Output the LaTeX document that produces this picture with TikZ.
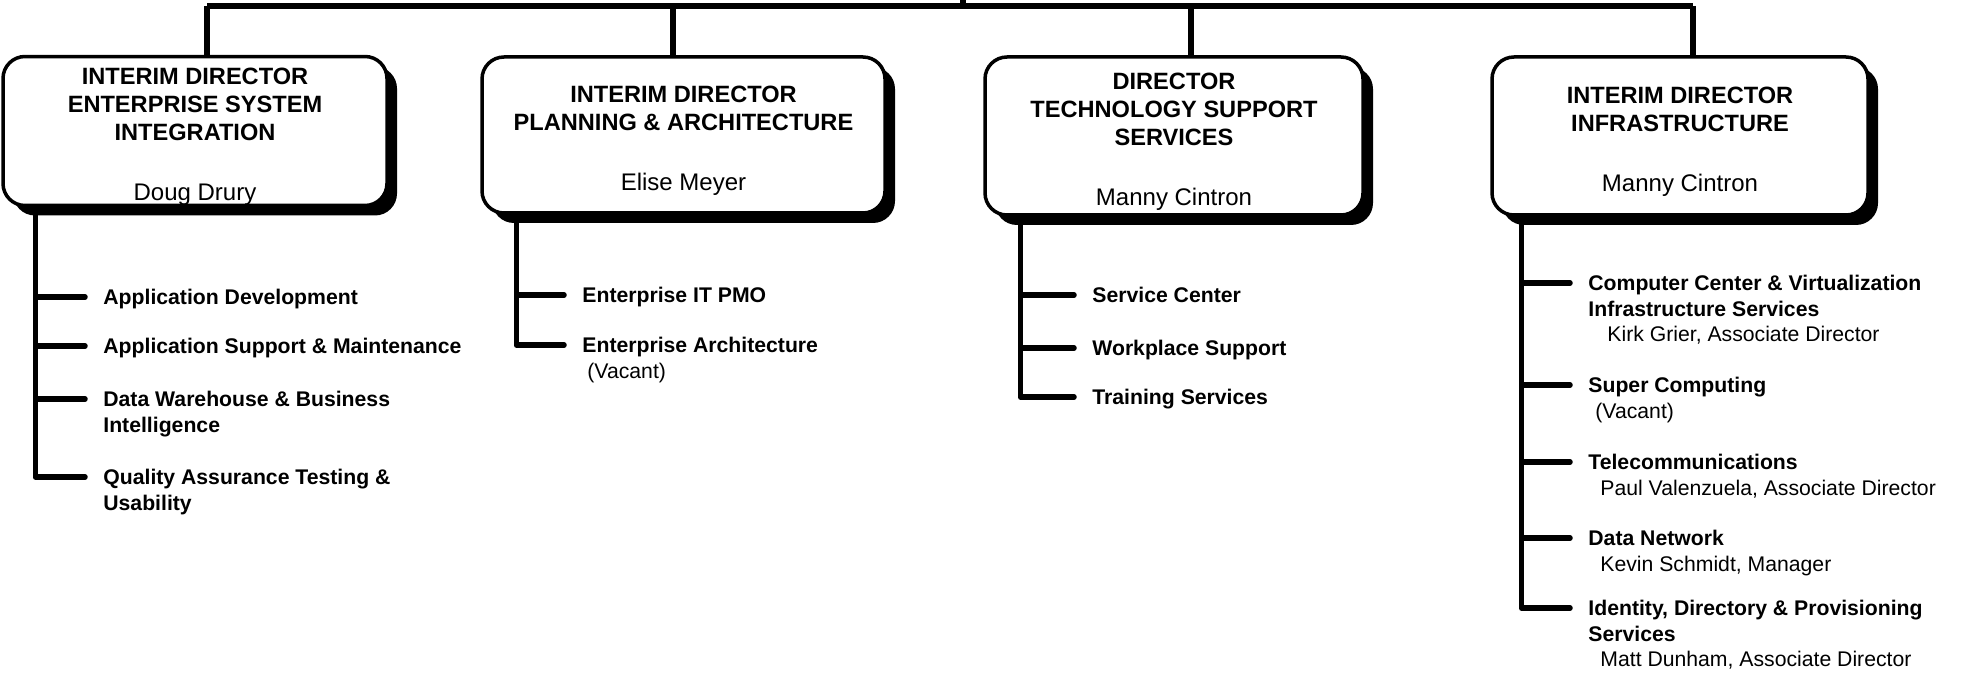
\documentclass[tikz,border=0pt]{standalone}
\usepackage{fontspec}
\setmainfont{Liberation Sans}
\usetikzlibrary{shadows}
\newcommand{\hd}{\fontsize{11.8}{14}\selectfont\bfseries}
\newcommand{\nm}{\fontsize{12}{14}\selectfont\mdseries}
\newcommand{\tallrow}{\rule{0pt}{14pt}}
\tikzset{dirbox/.style = {draw, line width=1.75pt, rounded corners=11pt, fill=white,
    align=center, inner sep=0pt, font=\hd,
    general shadow={fill=black, shadow xshift=5pt, shadow yshift=-5pt}},
  bar/.style = {line width=3pt},
  branch/.style = {line width=2.75pt, line join=round, line cap=round},
  unit/.style = {anchor=north west, inner sep=0pt, align=left,
    font=\fontsize{10.6}{12.8}\selectfont\bfseries}}

\begin{document}
\begin{tikzpicture}[x=0.5pt,y=-0.5pt]
    \useasboundingbox (0,0) rectangle (1963,673);

    % director boxes
    \node[dirbox, minimum width=192pt, minimum height=74pt] (ens) at (195,131)
        {\tallrow INTERIM DIRECTOR\\ENTERPRISE SYSTEM\\INTEGRATION\\[16pt]\nm Doug Drury};
    \node[dirbox, minimum width=201.5pt, minimum height=78pt] (pa) at (683.5,135)
        {\tallrow INTERIM DIRECTOR\\PLANNING \& ARCHITECTURE\\[16pt]\nm Elise Meyer};
    \node[dirbox, minimum width=189pt, minimum height=79pt] (tss) at (1174,136)
        {\tallrow DIRECTOR\\TECHNOLOGY SUPPORT\\SERVICES\\[16pt]\nm Manny Cintron};
    \node[dirbox, minimum width=188pt, minimum height=79pt] (infra) at (1680,136)
        {\tallrow INTERIM DIRECTOR\\INFRASTRUCTURE\\[16pt]\nm Manny Cintron};

    % top bar
    \coordinate (hub) at (963,6);
    \coordinate (d1) at (207,6);
    \coordinate (d2) at (673,6);
    \coordinate (d3) at (1191,6);
    \coordinate (d4) at (1693,6);
    \draw[bar] (d1) -- (d4);
    \draw[bar] (hub) -- ++(0,-6);
    \foreach \d/\b in {d1/ens,d2/pa,d3/tss,d4/infra}
        \draw[bar] (\d) -- (\d |- \b.north);

    % units
    \node[unit] (ad) at (103,289) {Application Development};
    \node[unit] (asm) at (103,338) {Application Support \& Maintenance};
    \node[unit] (dw) at (103,391) {Data Warehouse \& Business\\Intelligence};
    \node[unit] (qa) at (103,469) {Quality Assurance Testing \&\\Usability};

    \node[unit] (pmo) at (582,287) {Enterprise IT PMO};
    \node[unit] (ea) at (582,337) {Enterprise Architecture\\\mdseries\hspace*{2.5pt}(Vacant)};

    \node[unit] (sc) at (1092,287) {Service Center};
    \node[unit] (ws) at (1092,340) {Workplace Support};
    \node[unit] (ts) at (1092,389) {Training Services};

    \node[unit] (ccv) at (1588,275) {Computer Center \& Virtualization\\Infrastructure Services\\\mdseries\hspace*{9.5pt}Kirk Grier, Associate Director};
    \node[unit] (sup) at (1588,377) {Super Computing\\\mdseries\hspace*{3.5pt}(Vacant)};
    \node[unit] (tel) at (1588,454) {Telecommunications\\\mdseries\hspace*{6pt}Paul Valenzuela, Associate Director};
    \node[unit] (dn) at (1588,530) {Data Network\\\mdseries\hspace*{6pt}Kevin Schmidt, Manager};
    \node[unit] (idp) at (1588,600) {Identity, Directory \& Provisioning\\Services\\\mdseries\hspace*{6pt}Matt Dunham, Associate Director};

    % branches
    \coordinate (s1) at ([xshift=17pt]ens.south west);
    \coordinate (s2) at ([xshift=18pt]pa.south west);
    \coordinate (s3) at ([xshift=18.5pt]tss.south west);
    \coordinate (s4) at ([xshift=15.5pt]infra.south west);
    \foreach \s/\u in {s1/ad,s1/asm,s1/dw,s1/qa,s2/pmo,s2/ea,s3/sc,s3/ws,s3/ts,
                       s4/ccv,s4/sup,s4/tel,s4/dn,s4/idp}
        \draw[branch] (\s) |- ([xshift=-9pt,yshift=-4pt]\u.north west);
\end{tikzpicture}
\end{document}
